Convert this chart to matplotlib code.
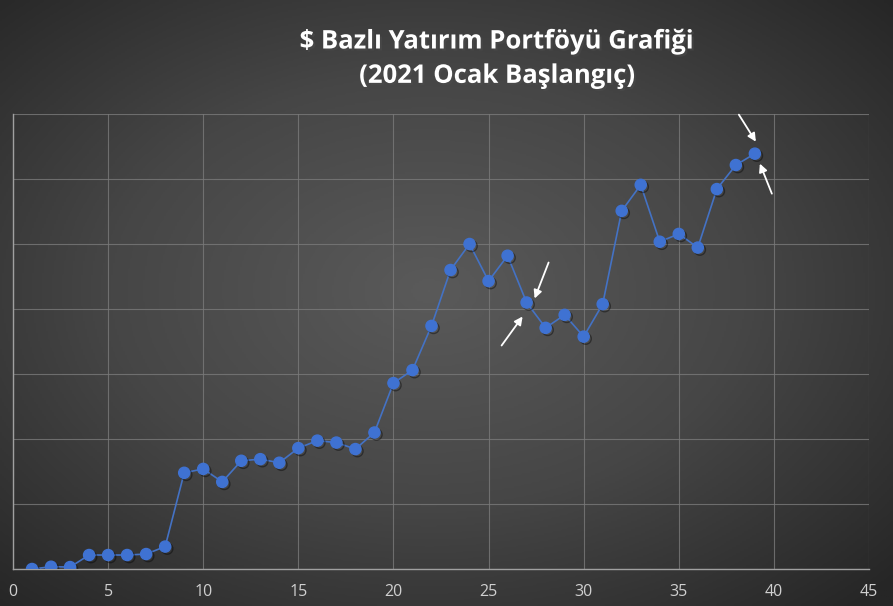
import numpy as np
import matplotlib.pyplot as plt
import matplotlib.patheffects as pe
from matplotlib.colors import LinearSegmentedColormap
from matplotlib.transforms import offset_copy

# veriler (ay sırası, portföy değeri $)
months = list(range(1, 40))
values = [0, 35, 30, 215, 215, 215, 230, 345, 1480, 1540,
          1340, 1665, 1690, 1635, 1860, 1975, 1945, 1845, 2100, 2860,
          3060, 3740, 4600, 5000, 4430, 4820, 4100, 3710, 3910, 3575,
          4075, 5510, 5910, 5035, 5155, 4945, 5845, 6215, 6390]
x_ticks = [0, 5, 10, 15, 20, 25, 30, 35, 40, 45]
y_grid = [0, 1000, 2000, 3000, 4000, 5000, 6000, 7000]
title = "$ Bazlı Yatırım Portföyü Grafiği\n(2021 Ocak Başlangıç)"

plt.rcParams['font.family'] = ['Open Sans', 'DejaVu Sans']

fig = plt.figure(figsize=(8.93, 6.06), dpi=100)

# arka plan: radyal gri gradyan
bg = fig.add_axes([0, 0, 1, 1], zorder=-10)
yy, xx = np.mgrid[0:1:300j, 0:1:450j]
r = np.sqrt(((xx - 0.48) / 0.75) ** 2 + ((yy - 0.48) / 0.75) ** 2)
cmap = LinearSegmentedColormap.from_list("bg", ["#5a5a5a", "#464646", "#262626"])
bg.imshow(r, cmap=cmap, aspect="auto", extent=[0, 1, 0, 1], vmin=0, vmax=0.95)
bg.axis("off")

ax = fig.add_axes([13 / 893, 37 / 606, 856 / 893, 455 / 606])
ax.patch.set_alpha(0)

ax.plot(months, values, color="#4472C4", lw=1.2, zorder=3)
ax.plot(months, values, ls="none", marker="o", markersize=8,
        markerfacecolor="#3f72d2", markeredgecolor="#3f72d2", zorder=4,
        path_effects=[pe.SimpleLineShadow(offset=(1.5, -1.5), alpha=0.4), pe.Normal()])

ax.set_xlim(0, 45)
ax.set_ylim(0, 7000)
ax.set_xticks(x_ticks)
ax.set_yticks(y_grid)
ax.set_yticklabels([])
ax.tick_params(axis="both", length=0)
ax.tick_params(axis="x", colors="#d0d0d0", labelsize=11.5, pad=11)
ax.grid(True, color="#7a7a7a", lw=0.8, alpha=0.8)
ax.set_axisbelow(True)
for s in ["top", "right"]:
    ax.spines[s].set_visible(False)
for s in ["left", "bottom"]:
    ax.spines[s].set_color("#a0a0a0")
    ax.spines[s].set_linewidth(1.0)


# beyaz oklar (noktaya göre piksel ofsetleri)
def arrow(i, tail, head):
    p = (months[i], values[i])
    tr_t = offset_copy(ax.transData, fig=fig, x=tail[0], y=tail[1], units="dots")
    tr_h = offset_copy(ax.transData, fig=fig, x=head[0], y=head[1], units="dots")
    ax.annotate("", xy=p, xycoords=tr_h, xytext=p, textcoords=tr_t,
                arrowprops=dict(arrowstyle="-|>", color="white", lw=1.3,
                                mutation_scale=12, shrinkA=0, shrinkB=0), zorder=5)


arrow(26, (22, 40), (8, 4))
arrow(26, (-25, -43), (-4, -14))
arrow(38, (-16, 39), (1, 12))
arrow(38, (17, -40), (5, -10))

fig.text(0.557, 0.904, title, ha="center", va="center", color="white",
         fontsize=18.5, fontweight="bold", linespacing=1.35,
         path_effects=[pe.withSimplePatchShadow(offset=(1.5, -1.5), alpha=0.5)])

fig.savefig("out.png", dpi=100)
